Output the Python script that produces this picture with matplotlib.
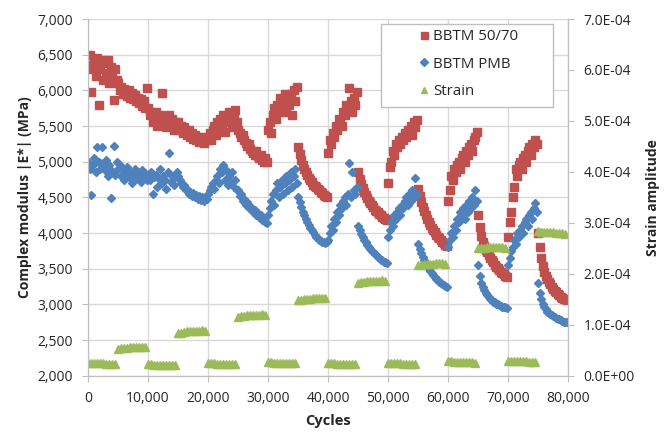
import numpy as np
import matplotlib
matplotlib.use("Agg")
import matplotlib.pyplot as plt
from matplotlib.patches import Rectangle
from matplotlib.ticker import FuncFormatter, MultipleLocator

plt.rcParams['font.family'] = ['Open Sans', 'DejaVu Sans']

# sampling grid: moduli every 250 cycles, strain every 500 cycles
cycles_mod = np.arange(0, 80000, 250)
cycles_strain = np.arange(0, 80000, 500)

# BBTM 50/70 complex modulus (MPa), one row per 5,000-cycle block
bbtm_5070 = [
    6350, 6500, 5980, 6300, 6400, 6200, 6450, 5800, 6300, 6420, 6150, 6380, 6250, 6430, 6100, 6330, 6200, 5860, 6300, 6150,
    6100, 6000, 6050, 5950, 6020, 5980, 5920, 6000, 5900, 5960, 5880, 5940, 5850, 5900, 5820, 5880, 5780, 5850, 5750, 6030,
    5750, 5650, 5700, 5550, 5620, 5700, 5500, 5600, 5650, 5970, 5550, 5620, 5480, 5580, 5650, 5500, 5600, 5450, 5550, 5500,
    5550, 5450, 5500, 5400, 5480, 5420, 5380, 5450, 5350, 5400, 5320, 5380, 5300, 5350, 5280, 5340, 5300, 5260, 5320, 5300,
    5350, 5400, 5300, 5450, 5500, 5380, 5550, 5450, 5600, 5500, 5650, 5420, 5600, 5550, 5700, 5620, 5480, 5680, 5720, 5550,
    5450, 5400, 5350, 5380, 5300, 5260, 5220, 5250, 5180, 5150, 5120, 5100, 5150, 5080, 5050, 5100, 5030, 5000, 5050, 4990,
    5450, 5550, 5400, 5650, 5750, 5600, 5800, 5700, 5900, 5750, 5850, 5950, 5700, 5880, 5800, 5950, 5650, 6000, 5850, 6050,
    5200, 5110, 5030, 4960, 4900, 4850, 4810, 4770, 4740, 4710, 4680, 4660, 4640, 4620, 4600, 4580, 4560, 4540, 4520, 4500,
    5120, 5300, 5250, 5400, 5350, 5500, 5450, 5600, 5550, 5500, 5700, 5650, 5800, 5750, 6030, 5850, 5700, 5900, 5800, 5980,
    4850, 4760, 4690, 4630, 4580, 4530, 4490, 4450, 4420, 4390, 4360, 4330, 4310, 4290, 4270, 4250, 4230, 4210, 4200, 4180,
    4700, 4920, 5000, 5150, 5100, 5250, 5200, 5300, 5250, 5350, 5300, 5400, 5350, 5450, 5400, 5500, 5380, 5550, 5480, 5580,
    4620, 4520, 4440, 4370, 4310, 4250, 4200, 4150, 4110, 4070, 4040, 4010, 3980, 3950, 3930, 3900, 3880, 3860, 3840, 3820,
    4450, 4600, 4800, 4750, 4900, 4850, 4950, 5000, 4900, 5050, 5100, 5000, 5150, 5100, 5200, 5250, 5150, 5300, 5350, 5420,
    4250, 4080, 3960, 3880, 3820, 3770, 3730, 3690, 3650, 3620, 3590, 3560, 3530, 3510, 3490, 3460, 3440, 3420, 3400, 3380,
    3950, 4150, 4300, 4500, 4650, 4900, 4800, 4950, 5000, 4900, 5050, 5100, 5000, 5150, 5200, 5100, 5250, 5200, 5300, 5250,
    4000, 3800, 3650, 3540, 3460, 3400, 3360, 3320, 3280, 3250, 3220, 3190, 3170, 3150, 3130, 3110, 3090, 3080, 3070, 3060,
]

# BBTM PMB complex modulus (MPa)
bbtm_pmb = [
    5000, 4900, 4530, 4950, 5050, 4850, 5200, 5000, 4900, 5200, 4980, 4880, 5020, 4800, 4950, 4490, 4870, 5220, 4820, 5000,
    4900, 4950, 4800, 4880, 4750, 4850, 4920, 4780, 4860, 4700, 4830, 4900, 4760, 4850, 4800, 4720, 4880, 4790, 4840, 4750,
    4800, 4750, 4850, 4550, 4780, 4820, 4650, 4760, 4900, 4700, 4800, 4750, 4620, 4850, 5120, 4720, 4800, 4680, 4780, 4850,
    4800, 4750, 4700, 4650, 4680, 4600, 4620, 4550, 4580, 4520, 4560, 4500, 4540, 4480, 4520, 4470, 4500, 4450, 4500, 4480,
    4550, 4600, 4650, 4700, 4620, 4750, 4800, 4700, 4900, 4850, 4950, 4750, 4880, 4680, 4800, 4720, 4850, 4650, 4750, 4600,
    4600, 4520, 4550, 4450, 4480, 4400, 4430, 4350, 4380, 4320, 4300, 4330, 4260, 4280, 4220, 4250, 4180, 4200, 4150, 4140,
    4250, 4350, 4450, 4550, 4400, 4600, 4700, 4500, 4650, 4750, 4550, 4700, 4800, 4600, 4750, 4850, 4650, 4800, 4900, 4700,
    4500, 4430, 4360, 4300, 4250, 4200, 4150, 4110, 4070, 4040, 4010, 3980, 3950, 3930, 3910, 3890, 3880, 3870, 3860, 3870,
    3900, 4000, 4100, 4050, 4200, 4150, 4300, 4250, 4400, 4350, 4450, 4500, 4400, 4550, 4980, 4500, 4860, 4600, 4550, 4650,
    4100, 4040, 3990, 3950, 3910, 3870, 3840, 3810, 3780, 3750, 3730, 3710, 3690, 3670, 3650, 3630, 3620, 3600, 3590, 3580,
    3950, 4050, 4150, 4100, 4250, 4200, 4300, 4350, 4250, 4400, 4350, 4450, 4500, 4400, 4550, 4450, 4600, 4500, 4770, 4550,
    3850, 3780, 3720, 3670, 3620, 3580, 3540, 3500, 3470, 3440, 3410, 3390, 3360, 3340, 3320, 3300, 3290, 3270, 3260, 3250,
    3800, 3900, 4000, 3950, 4100, 4050, 4200, 4150, 4300, 4250, 4350, 4200, 4400, 4300, 4450, 4350, 4500, 4400, 4600, 4450,
    3550, 3400, 3300, 3240, 3200, 3160, 3130, 3100, 3080, 3060, 3040, 3030, 3010, 3000, 2990, 2980, 2970, 2960, 2960, 2950,
    3550, 3650, 3750, 3800, 3900, 3850, 4000, 3950, 4050, 4100, 4000, 4150, 4200, 4100, 4250, 4300, 4200, 4350, 4420, 4300,
    3300, 3160, 3080, 3010, 2960, 2930, 2900, 2880, 2860, 2850, 2840, 2820, 2810, 2800, 2790, 2780, 2770, 2760, 2760, 2750,
]

# strain amplitude in units of 1e-5
strain_e5 = [
    2.6, 2.6, 2.5, 2.5, 2.5, 2.5, 2.4, 2.4, 2.4, 2.4,
    5.3, 5.4, 5.5, 5.5, 5.6, 5.6, 5.6, 5.7, 5.7, 5.6,
    2.3, 2.3, 2.2, 2.2, 2.2, 2.2, 2.1, 2.1, 2.1, 2.1,
    8.4, 8.5, 8.6, 8.7, 8.7, 8.8, 8.8, 8.8, 8.9, 8.8,
    2.5, 2.5, 2.5, 2.4, 2.4, 2.4, 2.4, 2.4, 2.3, 2.3,
    11.6, 11.7, 11.8, 11.9, 11.9, 12.0, 12.0, 12.0, 12.1, 12.0,
    2.7, 2.7, 2.6, 2.6, 2.6, 2.6, 2.5, 2.5, 2.5, 2.5,
    14.8, 14.9, 15.0, 15.1, 15.1, 15.2, 15.2, 15.2, 15.3, 15.2,
    2.5, 2.5, 2.5, 2.4, 2.4, 2.4, 2.4, 2.3, 2.3, 2.3,
    18.3, 18.4, 18.5, 18.6, 18.6, 18.7, 18.7, 18.7, 18.8, 18.7,
    2.6, 2.6, 2.5, 2.5, 2.5, 2.4, 2.4, 2.4, 2.4, 2.4,
    21.7, 21.8, 21.9, 22.0, 22.0, 22.0, 22.1, 22.1, 22.1, 22.0,
    2.9, 2.9, 2.8, 2.8, 2.8, 2.7, 2.7, 2.7, 2.7, 2.6,
    25.0, 25.1, 25.1, 25.2, 25.2, 25.2, 25.2, 25.2, 25.2, 25.1,
    3.0, 3.0, 3.0, 2.9, 2.9, 2.9, 2.9, 2.8, 2.8, 2.8,
    28.4, 28.3, 28.3, 28.2, 28.2, 28.2, 28.1, 28.1, 28.0, 27.9,
]

RED = '#C0504D'
BLUE = '#4F81BD'
GREEN = '#9BBB59'
GRID = '#D9D9D9'
TXT = '#262626'

fig = plt.figure(figsize=(6.67, 4.32), dpi=100)
ax = fig.add_axes([0.132, 0.130, 0.720, 0.826])
ax2 = ax.twinx()

l1, = ax.plot(cycles_mod, bbtm_5070, ls='none', marker='s', ms=6.3, color=RED,
              mec=RED, label='BBTM 50/70')
l2, = ax.plot(cycles_mod, bbtm_pmb, ls='none', marker='D', ms=4.5, color=BLUE,
              mec=BLUE, label='BBTM PMB')
l3, = ax2.plot(cycles_strain, np.array(strain_e5) * 1e-5, ls='none', marker='^',
               ms=6, color=GREEN, mec=GREEN, label='Strain')

ax.set_xlim(0, 80000)
ax.set_ylim(2000, 7000)
ax2.set_ylim(0, 7e-4)
ax.xaxis.set_major_locator(MultipleLocator(10000))
ax.yaxis.set_major_locator(MultipleLocator(500))
ax2.yaxis.set_major_locator(MultipleLocator(1e-4))
ax.xaxis.set_major_formatter(FuncFormatter(lambda v, p: f'{int(v):,}'))
ax.yaxis.set_major_formatter(FuncFormatter(lambda v, p: f'{int(v):,}'))
ax2.yaxis.set_major_formatter(FuncFormatter(lambda v, p: f'{v:.1E}'))

ax.grid(True, color=GRID, lw=1)
ax.set_axisbelow(True)
for a in (ax, ax2):
    for s in a.spines.values():
        s.set_color('#BFBFBF')
    a.spines['top'].set_visible(False)
    a.tick_params(colors='#BFBFBF', labelcolor=TXT, labelsize=10, length=4, pad=7)

ax.set_xlabel('Cycles', fontsize=10.5, fontweight='bold', color=TXT, labelpad=6)
ax.set_ylabel('Complex modulus |E*| (MPa)', fontsize=10, fontweight='bold', color=TXT)
ax2.set_ylabel('Strain amplitude', fontsize=10, fontweight='bold', color=TXT, labelpad=8)

# legend box (Excel style, wider than its entries)
ax2.add_patch(Rectangle((0.610, 0.754), 0.359, 0.232, transform=ax2.transAxes,
                        facecolor='white', edgecolor='#BFBFBF', lw=1, zorder=4))
leg = ax2.legend(handles=[l1, l2, l3], loc='upper left', bbox_to_anchor=(0.683, 0.972),
                 fontsize=10.8, frameon=False, borderpad=0, labelspacing=0.85,
                 handlelength=1.0, handletextpad=0.15, borderaxespad=0, markerscale=0.8)
leg.set_zorder(5)
for t in leg.get_texts():
    t.set_color(TXT)

fig.savefig('out.png', dpi=100)
